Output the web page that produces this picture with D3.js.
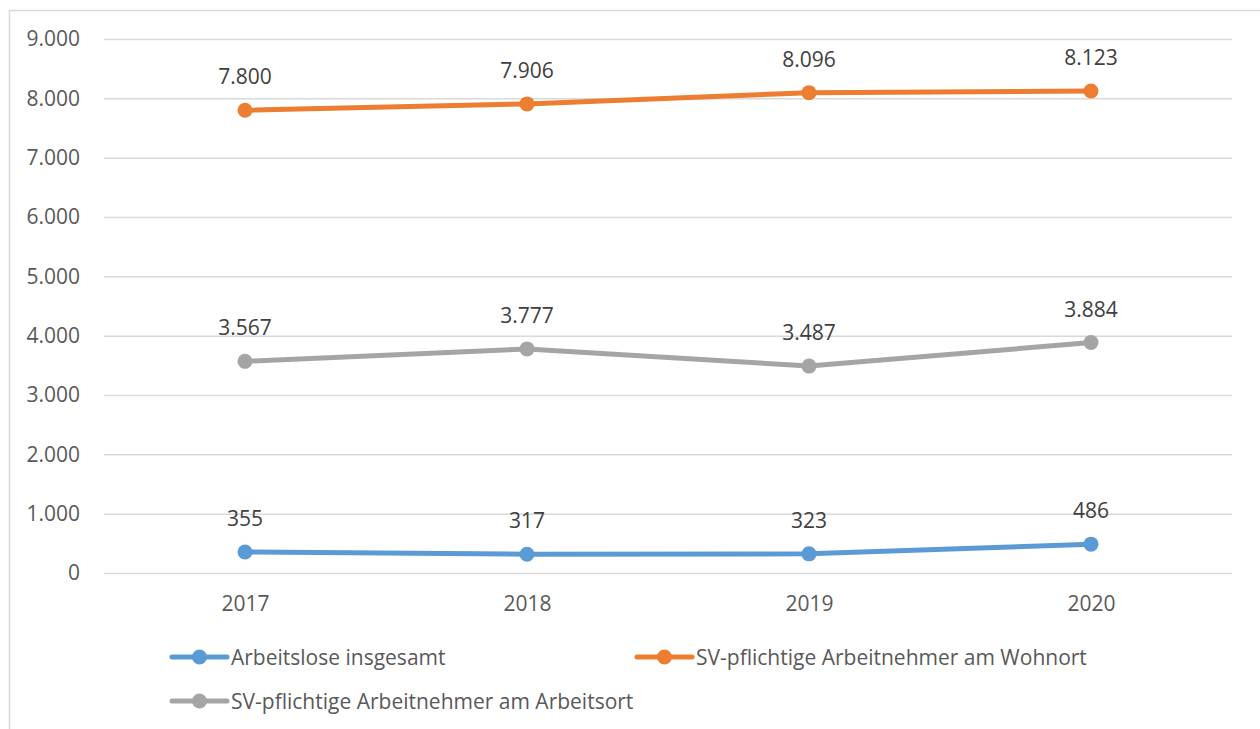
<!DOCTYPE html>
<html><head><meta charset="utf-8">
<script src="https://cdn.jsdelivr.net/npm/d3@7"></script>
<style>body{margin:0;background:#fff;} svg{display:block;font-family:"Open Sans",sans-serif;}</style>
</head><body>
<svg id="c" width="1260" height="729"></svg>
<script>
const categories = ["2017","2018","2019","2020"];
const seriesNames = ["Arbeitslose insgesamt","SV-pflichtige Arbeitnehmer am Wohnort","SV-pflichtige Arbeitnehmer am Arbeitsort"];
const arbeitslose = [355,317,323,486];
const wohnort = [7800,7906,8096,8123];
const arbeitsort = [3567,3777,3487,3884];
const yTicks = [0,1000,2000,3000,4000,5000,6000,7000,8000,9000];
const colors = ["#5B9BD5","#ED7D31","#A5A5A5"];

const svg = d3.select("#c");
svg.append("rect").attr("x",9.5).attr("y",10.5).attr("width",1300).attr("height",800)
  .attr("fill","#fff").attr("stroke","#D9D9D9").attr("stroke-width",1.5);

const x = d3.scalePoint().domain(categories).range([104,1232]).padding(0.5);
const y = d3.scaleLinear().domain([0,9000]).range([573,39]);
const fmt = v => d3.format(",")(v).replace(/,/g,".");
const FS = "21px";

const yAxis = svg.append("g").attr("transform","translate(104,0)")
  .call(d3.axisLeft(y).tickValues(yTicks).tickSize(-1128).tickPadding(24).tickFormat(fmt));
yAxis.select(".domain").remove();
yAxis.selectAll("line").attr("stroke","#D9D9D9").attr("stroke-width",1.5);
yAxis.selectAll("text").attr("fill","#595959").style("font-size",FS).style("font-family","'Open Sans',sans-serif");

const xAxis = svg.append("g").attr("transform","translate(0,573)")
  .call(d3.axisBottom(x).tickSize(0).tickPadding(23));
xAxis.select(".domain").remove();
xAxis.selectAll("text").attr("fill","#595959").style("font-size",FS).style("font-family","'Open Sans',sans-serif");

const data = [arbeitslose, wohnort, arbeitsort];
const line = d3.line().x((d,i)=>x(categories[i])).y(d=>y(d));
data.forEach((vals,si)=>{
  const g = svg.append("g");
  g.append("path").datum(vals).attr("d",line).attr("fill","none")
    .attr("stroke",colors[si]).attr("stroke-width",5).attr("stroke-linecap","round").attr("stroke-linejoin","round");
  g.selectAll("circle").data(vals).join("circle")
    .attr("cx",(d,i)=>x(categories[i])).attr("cy",d=>y(d)).attr("r",7.5).attr("fill",colors[si]);
  g.selectAll("text").data(vals).join("text")
    .attr("x",(d,i)=>x(categories[i])).attr("y",d=>y(d)-26)
    .attr("text-anchor","middle").attr("fill","#404040").style("font-size",FS)
    .text(fmt);
});

// legend
const legendPos = [[172,657],[637,657],[172,701]];
[0,1,2].forEach(si=>{
  const [lx,ly] = legendPos[si];
  const g = svg.append("g").attr("transform",`translate(${lx},${ly})`);
  g.append("line").attr("x1",0).attr("x2",55).attr("y1",0).attr("y2",0)
    .attr("stroke",colors[si]).attr("stroke-width",5).attr("stroke-linecap","round");
  g.append("circle").attr("cx",27.5).attr("cy",0).attr("r",7.5).attr("fill",colors[si]);
  g.append("text").attr("x",59).attr("y",7.5).attr("fill","#595959").style("font-size",FS)
    .text(seriesNames[si]);
});
</script>
</body></html>
